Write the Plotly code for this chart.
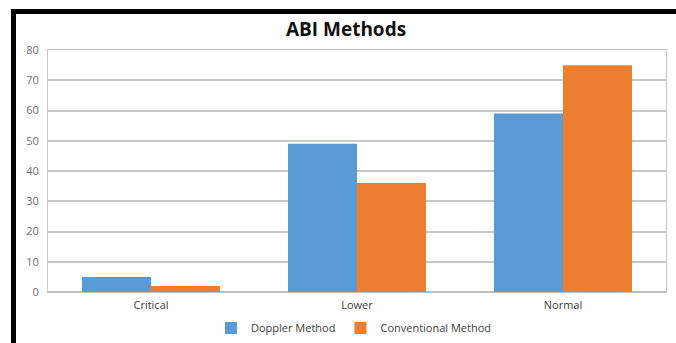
import plotly.graph_objects as go

categories = ["Critical", "Lower", "Normal"]
doppler = [5, 49, 59]
conventional = [2, 36, 75]
y_ticks = [0, 10, 20, 30, 40, 50, 60, 70, 80]

W, H = 676, 343
ML, MR, MT, MB = 48, 10, 50, 51
pw, ph = W - ML - MR, H - MT - MB

def px(x):
    return (x - ML) / pw

def py(y):
    return (H - MB - y) / ph

fig = go.Figure()
fig.add_trace(go.Bar(name="Doppler Method", x=categories, y=doppler,
                     marker=dict(color="#5B9BD5", line=dict(width=0))))
fig.add_trace(go.Bar(name="Conventional Method", x=categories, y=conventional,
                     marker=dict(color="#ED7D31", line=dict(width=0))))

font_family = "Open Sans, Liberation Sans, sans-serif"

fig.update_layout(
    width=W, height=H,
    margin=dict(l=ML, r=MR, t=MT, b=MB, autoexpand=False),
    paper_bgcolor="white", plot_bgcolor="white",
    barmode="group", bargap=0.33, bargroupgap=0,
    title=dict(text="<b>ABI Methods</b>", x=px(346), xref="paper", xanchor="center",
               y=1 - 29 / H, yref="container", yanchor="middle",
               font=dict(family=font_family, size=19, color="#111111")),
    legend=dict(orientation="h", x=px(354), xanchor="center", y=1 - 328 / H,
                yref="container", yanchor="middle",
                font=dict(family=font_family, size=11, color="#404040"),
                itemwidth=30, traceorder="normal"),
    xaxis=dict(showgrid=False, showline=True, linecolor="#BFBFBF", linewidth=1, mirror=True,
               ticks="", tickfont=dict(family=font_family, size=11, color="#404040"),
               ticklabelstandoff=3, automargin=False),
    yaxis=dict(range=[0, 80], tickvals=y_ticks, showgrid=True, gridcolor="#C8C8C8", gridwidth=1.5,
               showline=True, linecolor="#C8C8C8", linewidth=1, mirror=True,
               zeroline=True, zerolinecolor="#BFBFBF", zerolinewidth=2,
               ticks="", tickfont=dict(family=font_family, size=11, color="#707070"),
               ticklabelstandoff=6, automargin=False),
    showlegend=True,
)

# heavy black frame along the top and left of the figure
fig.add_shape(type="line", xref="paper", yref="paper",
              x0=px(11), x1=px(680), y0=py(11.5), y1=py(11.5),
              line=dict(color="black", width=5))
fig.add_shape(type="line", xref="paper", yref="paper",
              x0=px(13.5), x1=px(13.5), y0=py(9), y1=py(350),
              line=dict(color="black", width=5))

fig.write_html("out.html")
